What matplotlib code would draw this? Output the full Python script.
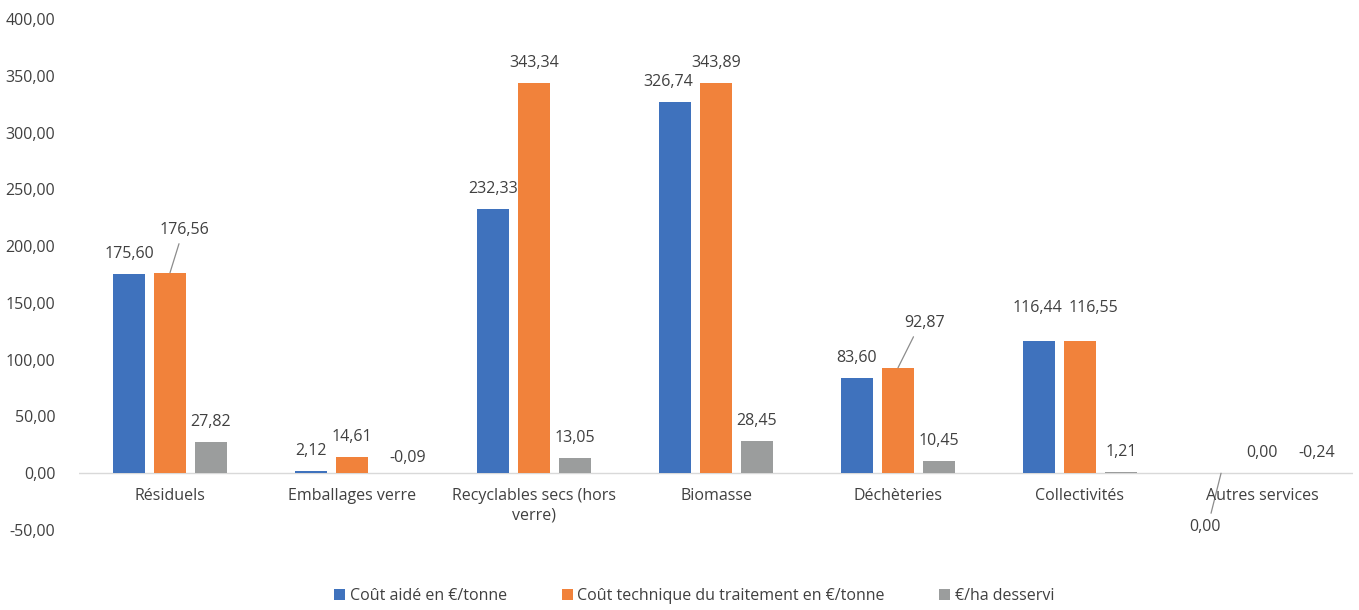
import matplotlib.pyplot as plt
import numpy as np

plt.rcParams['font.family'] = ['Open Sans', 'DejaVu Sans']

categories = [
    "Résiduels",
    "Emballages verre",
    "Recyclables secs (hors\nverre)",
    "Biomasse",
    "Déchèteries",
    "Collectivités",
    "Autres services",
]
series_names = [
    "Coût aidé en €/tonne",
    "Coût technique du traitement en €/tonne",
    "€/ha desservi",
]
cout_aide = [175.60, 2.12, 232.33, 326.74, 83.60, 116.44, 0.00]
cout_technique = [176.56, 14.61, 343.34, 343.89, 92.87, 116.55, 0.00]
eur_ha = [27.82, -0.09, 13.05, 28.45, 10.45, 1.21, -0.24]
y_ticks = [-50, 0, 50, 100, 150, 200, 250, 300, 350, 400]

colors = ["#3F72BD", "#F1823B", "#9B9D9D"]
text_col = "#404040"
fs = 11.5

# label offsets in pixels (dx, dy, leader line) for the few moved labels
moved = {
    (0, 1): (14, 43, True),
    (1, 2): (15, 15, False),
    (3, 0): (-7, 20, False),
    (4, 1): (27, 45, True),
    (5, 0): (-2, 33, False),
    (5, 1): (13, 33, False),
    (6, 0): (-16, -54, True),
    (6, 2): (14, 20, False),
}

fig = plt.figure(figsize=(13.59, 6.10), dpi=100)
ax = fig.add_axes([79 / 1359, 80 / 610, 1274 / 1359, 511 / 610])

x = np.arange(len(categories))
step = 0.225
width = 0.176
all_series = [cout_aide, cout_technique, eur_ha]
for s, vals in enumerate(all_series):
    xs = x + (s - 1) * step
    ax.bar(xs, vals, width=width, color=colors[s], label=series_names[s], zorder=2)
    for i, v in enumerate(vals):
        dx, dy, lead = moved.get((i, s), (0, 20, False))
        txt = f"{v:.2f}".replace(".", ",")
        ax.annotate(txt, xy=(xs[i], v), xytext=(dx, dy), textcoords="offset pixels",
                    ha="center", va="center", fontsize=fs, color=text_col)
        if lead:
            sign = 1 if dy > 0 else -1
            ax.annotate("", xy=(xs[i], v), xytext=(dx * 0.5 + (2 if dx > 0 else -2), dy - sign * 14),
                        textcoords="offset pixels",
                        arrowprops=dict(arrowstyle="-", color="#8C8C8C", lw=0.9,
                                        shrinkA=0, shrinkB=0))

ax.set_xlim(-0.5, len(categories) - 0.5)
ax.set_ylim(-50, 400)
ax.set_yticks(y_ticks)
ax.set_yticklabels([f"{t:.2f}".replace(".", ",") for t in y_ticks], fontsize=fs, color=text_col)
ax.tick_params(axis="y", length=0, pad=17)
ax.set_xticks([])
for sp in ax.spines.values():
    sp.set_visible(False)
ax.axhline(0, color="#D9D9D9", lw=1, zorder=1)

for i, c in enumerate(categories):
    ax.annotate(c, xy=(i, 0), xytext=(0, -15), textcoords="offset pixels",
                ha="center", va="top", fontsize=fs, color=text_col, linespacing=1.25)

fig.legend(loc="lower center", bbox_to_anchor=(0.511, -0.014), ncol=3, frameon=False,
           fontsize=fs, handlelength=0.7, handleheight=0.7, handletextpad=0.3,
           columnspacing=3.4, labelcolor=text_col)

fig.savefig("out.png", dpi=100)
